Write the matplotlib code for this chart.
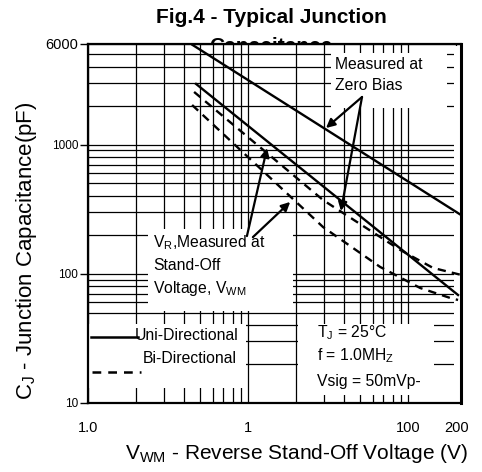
# Fig.4 - typical junction capacitance (TVS datasheet style), log-log
import matplotlib.pyplot as plt
from matplotlib.patches import Rectangle
from matplotlib.ticker import FixedLocator, FixedFormatter, LogLocator, NullFormatter

plt.rcParams.update({'font.family': 'Liberation Sans',
                     'mathtext.default': 'regular'})

# curves (V, pF)
zb_uni_v = [4.5, 214]
zb_uni_c = [5900, 285]
so_uni_v = [4.73, 205]
so_uni_c = [2945, 68.5]
bi_up_v = [4.60, 29.4, 89.1, 143, 214]
bi_up_c = [2553, 372, 153, 111, 98]
bi_lo_v = [4.47, 29.4, 66.8, 119, 183, 205]
bi_lo_c = [2023, 230, 113, 77.6, 65, 62.7]

x_ticks = [1, 10, 100, 200]
x_labels = ['1.0', '1', '100', '200']
y_ticks = [10, 100, 1000, 6000]
y_labels = ['10', '100', '1000', '6000']

fig = plt.figure(figsize=(4.82, 4.72), dpi=100)
ax = fig.add_axes([0.1826, 0.1462, 0.7739, 0.7606])
ax.set_xscale('log')
ax.set_yscale('log')
ax.set_xlim(1, 214)
ax.set_ylim(10, 6000)

ax.xaxis.set_major_locator(FixedLocator(x_ticks))
ax.xaxis.set_major_formatter(FixedFormatter(x_labels))
ax.xaxis.set_minor_locator(LogLocator(subs=range(2, 10)))
ax.xaxis.set_minor_formatter(NullFormatter())
ax.yaxis.set_major_locator(FixedLocator(y_ticks))
ax.yaxis.set_major_formatter(FixedFormatter(y_labels))
ax.yaxis.set_minor_locator(LogLocator(subs=range(2, 10)))
ax.yaxis.set_minor_formatter(NullFormatter())

ax.set_axisbelow(True)
ax.grid(which='both', color='#000000', linewidth=0.9)
ax.tick_params(axis='x', which='both', length=0, pad=13, labelsize=10.5)
ax.tick_params(axis='y', which='major', length=6, width=1, pad=1, labelsize=8.5)
ax.tick_params(axis='y', which='minor', length=0)
ax.get_yticklabels()[-1].set_fontsize(10.5)

for s in ax.spines.values():
    s.set_linewidth(1.6)
ax.spines['right'].set_linewidth(2.2)

# white boxes that hide the grid behind the notes (axes fraction)
boxes = [(0.651, 0.822, 0.962, 0.975),   # zero bias note
         (0.981, 0.0, 1.0, 0.995),       # right strip
         (0.161, 0.256, 0.550, 0.485),   # V_R note
         (0.0, 0.042, 0.424, 0.220),     # legend
         (0.563, 0.022, 0.928, 0.220)]   # conditions
for x0, y0, x1, y1 in boxes:
    ax.add_patch(Rectangle((x0, y0), x1 - x0, y1 - y0, transform=ax.transAxes,
                           facecolor='white', edgecolor='none', zorder=1))

dash = (0, (3.5, 2.6))
ax.plot(zb_uni_v, zb_uni_c, color='black', lw=1.7, zorder=3)
ax.plot(so_uni_v, so_uni_c, color='black', lw=1.7, zorder=3)
ax.plot(bi_up_v, bi_up_c, color='black', lw=1.7, linestyle=dash, zorder=3)
ax.plot(bi_lo_v, bi_lo_c, color='black', lw=1.7, linestyle=dash, zorder=3)

# legend drawn by hand like the datasheet
ax.plot([0.008, 0.134], [0.184, 0.184], transform=ax.transAxes,
        color='black', lw=1.8, zorder=3)
ax.plot([0.012, 0.142], [0.086, 0.086], transform=ax.transAxes,
        color='black', lw=1.8, linestyle=(0, (3.5, 2.8)), zorder=3)

fs = 11.3
notes = [(0.662, 0.944, 'Measured at'),
         (0.662, 0.883, 'Zero Bias'),
         (0.174, 0.446, 'V$_R$,Measured at'),
         (0.174, 0.382, 'Stand-Off'),
         (0.174, 0.318, 'Voltage, V$_{WM}$'),
         (0.126, 0.187, 'Uni-Directional'),
         (0.147, 0.123, 'Bi-Directional'),
         (0.614, 0.195, 'T$_J$ = 25°C'),
         (0.614, 0.131, 'f = 1.0MH$_Z$'),
         (0.614, 0.061, 'Vsig = 50mVp-')]
for x, y, s in notes:
    ax.text(x, y, s, transform=ax.transAxes, fontsize=fs,
            ha='left', va='center', zorder=4)

arrow = dict(arrowstyle='-|>', color='black', lw=1.6, mutation_scale=13,
             shrinkA=0, shrinkB=0)
for start, tip in [((0.7346, 0.8524), (0.638, 0.766)),
                   ((0.7346, 0.8524), (0.678, 0.535)),
                   ((0.426, 0.465), (0.480, 0.710)),
                   ((0.442, 0.462), (0.542, 0.560))]:
    ax.annotate('', xy=tip, xytext=start, xycoords='axes fraction',
                textcoords='axes fraction', arrowprops=arrow, zorder=4)

# title sits behind the axes so its second line is mostly hidden
fig.text(0.562, 0.963, 'Fig.4 - Typical Junction', ha='center', va='center',
         fontsize=15, fontweight='bold', zorder=-1)
fig.text(0.562, 0.963 - 29 / 472, 'Capacitance', ha='center', va='center',
         fontsize=15, fontweight='bold', zorder=-1)

fig.text(0.056, 0.468, 'C$_J$ - Junction Capacitance(pF)', rotation=90,
         ha='center', va='center', fontsize=16)
fig.text(0.616, 0.040, 'V$_{WM}$ - Reverse Stand-Off Voltage (V)',
         ha='center', va='center', fontsize=15)

fig.savefig('out.png', dpi=100)
